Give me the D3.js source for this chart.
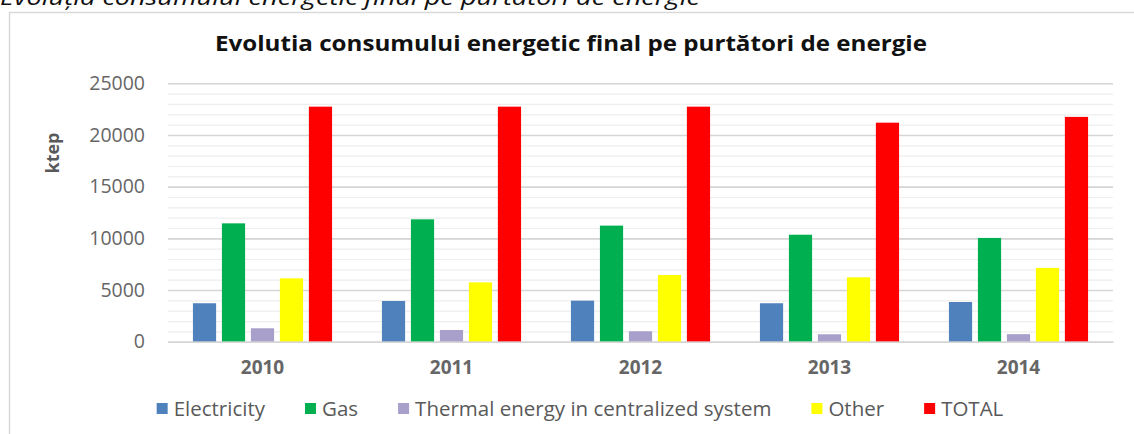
<!DOCTYPE html>
<html>
<head>
<meta charset="utf-8">
<style>
  body { margin: 0; background: white; }
  svg { font-family: 'Open Sans', sans-serif; display: block; }
  .grid-minor line { stroke: #eeeeee; stroke-width: 1.2px; }
  .grid-major line { stroke: #d6d6d6; stroke-width: 1.6px; }
  .axis text { fill: #666666; }
</style>
</head>
<body>
<script src="https://d3js.org/d3.v7.min.js"></script>
<div id="my_dataviz"></div>
<script>

// data (ktep)
var years = ["2010", "2011", "2012", "2013", "2014"];
var seriesNames = ["Electricity", "Gas", "Thermal energy in centralized system", "Other", "TOTAL"];
var seriesColors = ["#4f81bd", "#00b050", "#a99fcb", "#ffff00", "#ff0000"];
var electricity = [3720, 3940, 3970, 3720, 3840];
var gas = [11450, 11840, 11230, 10350, 10040];
var thermal = [1300, 1130, 1010, 720, 730];
var other = [6130, 5740, 6450, 6230, 7140];
var total = [22740, 22740, 22740, 21190, 21750];
var yTicks = [0, 5000, 10000, 15000, 20000, 25000];

var allSeries = [electricity, gas, thermal, other, total];

var width = 1134, height = 434;
var margin = {top: 83.3, right: 21, bottom: 92.3, left: 168};
var plotW = width - margin.left - margin.right,
    plotH = height - margin.top - margin.bottom;

var svg = d3.select("#my_dataviz")
  .append("svg")
    .attr("width", width)
    .attr("height", height);

// page caption, cut off at the top like in the source document
svg.append("text")
    .attr("x", 0)
    .attr("y", 5)
    .attr("textLength", 700)
    .attr("lengthAdjust", "spacingAndGlyphs")
    .style("font-size", "21px")
    .style("font-style", "italic")
    .attr("fill", "#111")
    .text("Evoluția consumului energetic final pe purtători de energie");

// chart frame
svg.append("rect")
    .attr("x", 9.5)
    .attr("y", 12.5)
    .attr("width", 1200)
    .attr("height", 600)
    .attr("fill", "none")
    .attr("stroke", "#d9d9d9")
    .attr("stroke-width", 1.5);

svg.append("text")
    .attr("x", 571)
    .attr("y", 51)
    .attr("text-anchor", "middle")
    .attr("textLength", 712)
    .attr("lengthAdjust", "spacingAndGlyphs")
    .style("font-size", "21px")
    .style("font-weight", "bold")
    .attr("fill", "#111")
    .text("Evolutia consumului energetic final pe purtători de energie");

var g = svg.append("g")
    .attr("transform", "translate(" + margin.left + "," + margin.top + ")");

var y = d3.scaleLinear()
    .domain([0, 25000])
    .range([plotH, 0]);

// minor gridlines every 1000
g.append("g")
    .attr("class", "grid-minor")
    .call(d3.axisLeft(y).tickValues(d3.range(0, 25001, 1000)).tickSize(-plotW).tickFormat(""))
    .call(function(s) { s.select(".domain").remove(); });

// major gridlines every 5000
g.append("g")
    .attr("class", "grid-major")
    .call(d3.axisLeft(y).tickValues(yTicks).tickSize(-plotW).tickFormat(""))
    .call(function(s) { s.select(".domain").remove(); });

// y labels
g.append("g")
    .attr("class", "axis")
    .call(d3.axisLeft(y).tickValues(yTicks).tickSize(0).tickPadding(23).tickFormat(d3.format("d")))
    .call(function(s) {
      s.select(".domain").remove();
      s.selectAll("text").style("font-size", "19.5px").style("font-family", "'Open Sans', sans-serif");
    });

svg.append("text")
    .attr("transform", "translate(59,153) rotate(-90)")
    .attr("text-anchor", "middle")
    .style("font-size", "18px")
    .style("font-weight", "bold")
    .attr("fill", "#595959")
    .text("ktep");

var x0 = d3.scaleBand()
    .domain(years)
    .range([0, plotW]);

var x1 = d3.scaleBand()
    .domain(seriesNames)
    .range([0, x0.bandwidth()])
    .paddingInner(0.2)
    .paddingOuter(0.86);

var groups = g.selectAll(".year")
  .data(years)
  .enter()
  .append("g")
    .attr("transform", function(d) { return "translate(" + x0(d) + ",0)"; });

groups.selectAll("rect")
  .data(function(d, i) {
    return seriesNames.map(function(name, k) { return {name: name, value: allSeries[k][i], color: seriesColors[k]}; });
  })
  .enter()
  .append("rect")
    .attr("x", function(d) { return x1(d.name); })
    .attr("y", function(d) { return y(d.value); })
    .attr("width", x1.bandwidth())
    .attr("height", function(d) { return plotH - y(d.value); })
    .attr("fill", function(d) { return d.color; });

// x axis
g.append("g")
    .attr("class", "axis")
    .attr("transform", "translate(0," + plotH + ")")
    .call(d3.axisBottom(x0).tickSize(0).tickPadding(19))
    .call(function(s) {
      s.select(".domain").attr("stroke", "#d6d6d6").attr("stroke-width", 1.6);
      s.selectAll("text")
        .style("font-size", "19px")
        .style("font-weight", "bold")
        .style("font-family", "'Open Sans', sans-serif")
        .attr("fill", "#595959");
    });

// legend
var legend = svg.append("g");
var items = legend.selectAll(".item")
  .data(seriesNames)
  .enter()
  .append("g");

items.append("rect")
    .attr("y", -6)
    .attr("width", 11)
    .attr("height", 11)
    .attr("fill", function(d, i) { return seriesColors[i]; });

items.append("text")
    .attr("x", 17)
    .attr("y", 6.5)
    .style("font-size", "20.5px")
    .attr("fill", "#595959")
    .text(function(d) { return d; });

var gap = 40, cursor = 0;
items.each(function() {
  var it = d3.select(this);
  it.attr("transform", "translate(" + cursor + ",0)");
  cursor += 17 + it.select("text").node().getComputedTextLength() + gap;
});
var legendW = cursor - gap;
legend.attr("transform", "translate(" + (580 - legendW / 2) + ",409)");

</script>
</body>
</html>
